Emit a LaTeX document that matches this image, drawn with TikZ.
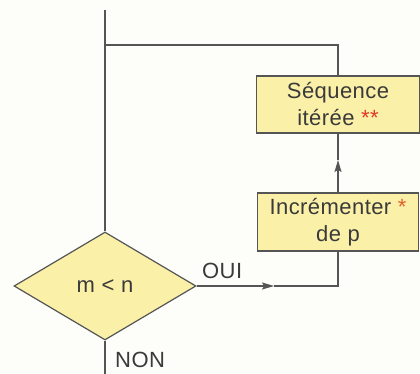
\documentclass[tikz,border=0pt]{standalone}
\usepackage{fontspec}
\setmainfont[LetterSpace=2]{Liberation Sans}
\usetikzlibrary{shapes.geometric,arrows.meta}
\definecolor{boxfill}{HTML}{FAF0A8}
\definecolor{linecol}{HTML}{555555}
\definecolor{txtcol}{HTML}{3A3A3A}
\definecolor{starred}{HTML}{E03A2A}
\definecolor{starorange}{HTML}{E0602A}
\definecolor{bgcol}{HTML}{FDFDF9}
\tikzset{
  flow/.style={draw=linecol, line width=1.2pt},
  arrowline/.style={draw=linecol, line width=1.2pt, -{Stealth[length=12pt,width=7pt,inset=2pt]}},
  procbox/.style={rectangle, draw=linecol, line width=1.2pt, fill=boxfill,
    text=txtcol, align=center, inner sep=0pt, font=\fontsize{22}{27}\selectfont},
  testbox/.style={diamond, draw=linecol, line width=1.2pt, fill=boxfill,
    text=txtcol, inner sep=0pt, minimum width=182pt, minimum height=108pt,
    font=\fontsize{22}{27}\selectfont},
  lbl/.style={text=txtcol, inner sep=0pt, font=\fontsize{22}{27}\selectfont}
}
\begin{document}
\begin{tikzpicture}[x=1pt,y=-1pt]
\useasboundingbox[fill=bgcol] (0,0) rectangle (420,374);
\node[testbox] (d) at (105,286) {m \textless{} n};
\node[procbox, minimum width=163pt, minimum height=57pt] (s) at (338,104.5)
  {Séquence\\itérée {\color{starred}**}};
\node[procbox, minimum width=161pt, minimum height=58pt] (i) at (338,222)
  {Incrémenter {\color{starorange}*}\\de p};
\coordinate (top) at (105,10);
\coordinate (j) at (105,45);
\coordinate (bot) at (105,374);
\coordinate (c) at (338,286);
\coordinate (a1) at (274,286);
\coordinate (a2) at (338,160);
\draw[flow] (top) -- (d.north);
\draw[flow] (s.north) |- (j);
\draw[arrowline] (d.east) -- (a1);
\draw[flow] (a1) -- (c) -- (i.south);
\draw[arrowline] (i.north) -- (a2);
\draw[flow] (a2) -- (s.south);
\draw[flow] (d.south) -- (bot);
\node[lbl, anchor=base west] (oui) at (202,278) {OUI};
\node[lbl, anchor=base west] (non) at (115,367) {NON};
\end{tikzpicture}
\end{document}
